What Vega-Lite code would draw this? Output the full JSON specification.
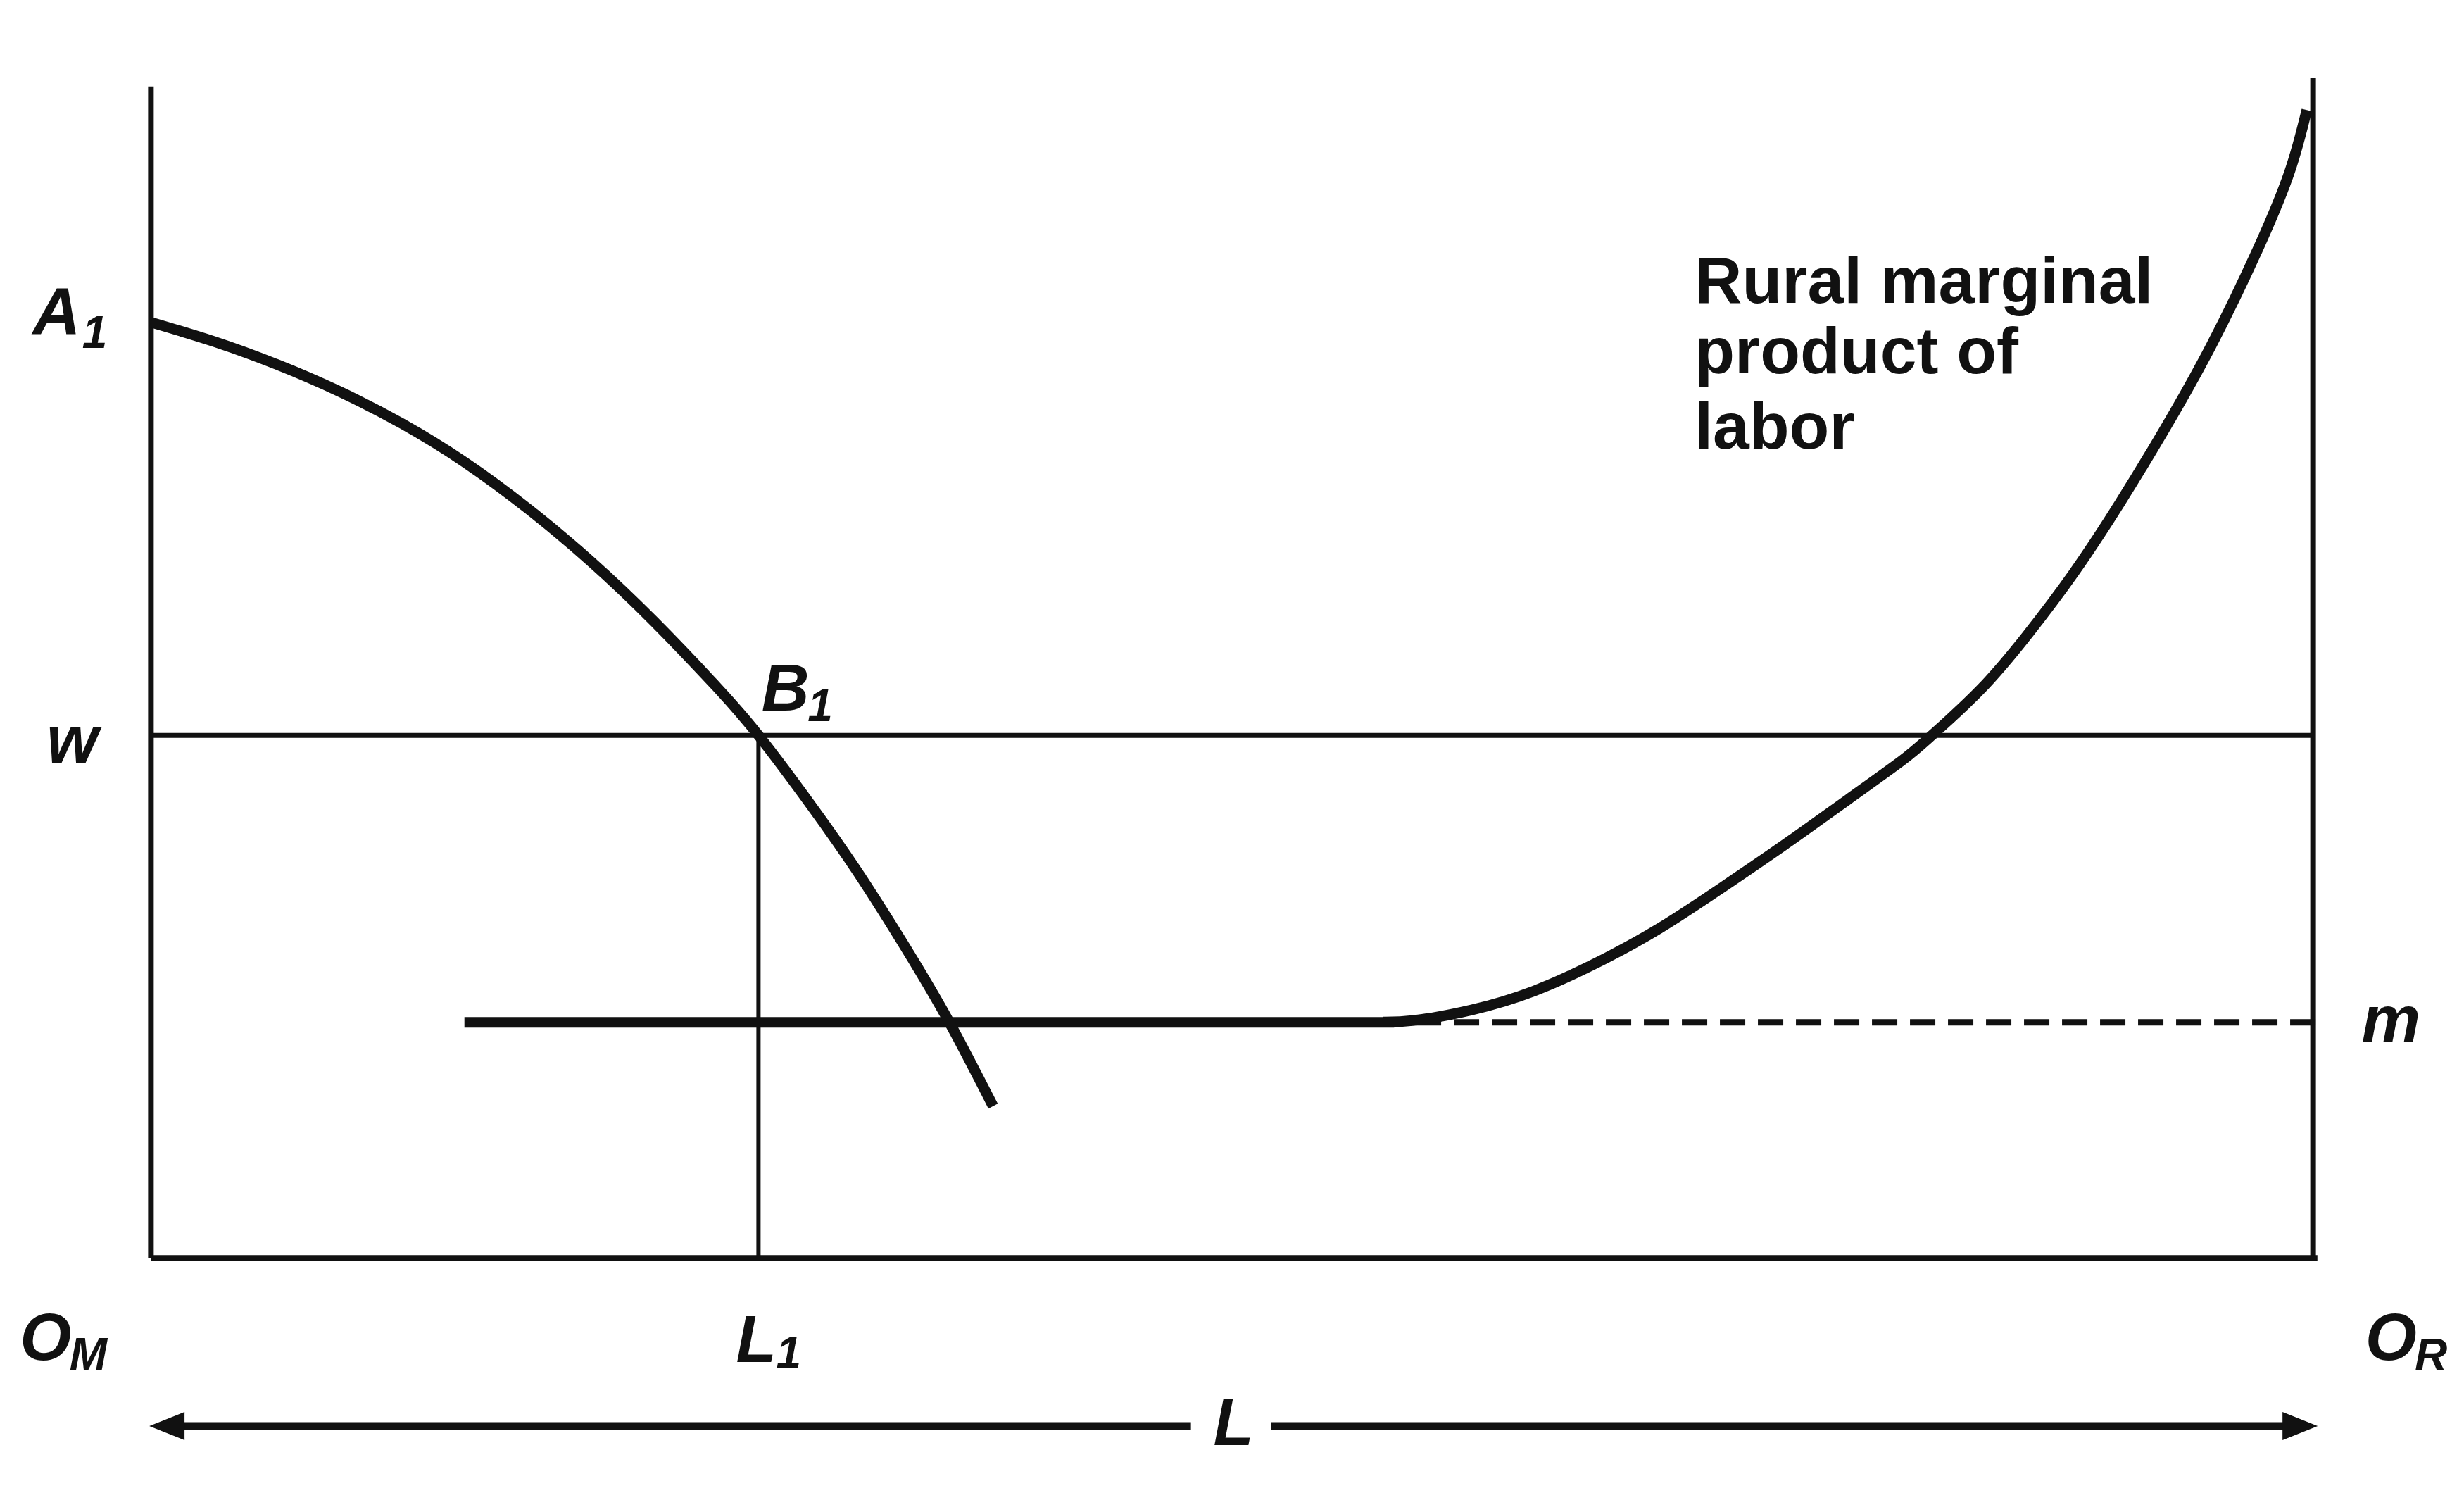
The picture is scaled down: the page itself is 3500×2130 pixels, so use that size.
{
  "$schema": "https://vega.github.io/schema/vega-lite/v6.json",
  "width": 3500,
  "height": 2130,
  "autosize": {"type": "fit", "contains": "padding"},
  "padding": 0,
  "background": "white",
  "config": {"view": {"stroke": null}},
  "datasets": {
    "axes": [
      {"x": 0, "y": 0, "x2": 0, "y2": 100},
      {"x": 100, "y": 0, "x2": 100, "y2": 100.7},
      {"x": 0, "y": 0, "x2": 100.2, "y2": 0}
    ],
    "wline": [{"x": 0, "y": 44.6, "x2": 100, "y2": 44.6}],
    "l1line": [{"x": 28.1, "y": 0, "x2": 28.1, "y2": 44.6}],
    "msolid": [{"x": 14.5, "y": 20.1, "x2": 57.5, "y2": 20.1}],
    "mdash": [{"x": 58.5, "y": 20.1, "x2": 100.2, "y2": 20.1}],
    "arrow": [
      {"x": 0.8, "y": -14.36, "x2": 48.1, "y2": -14.36},
      {"x": 51.8, "y": -14.36, "x2": 99.4, "y2": -14.36}
    ],
    "headL": [{"x": 0.74, "y": -14.36}],
    "headR": [{"x": 99.4, "y": -14.36}],
    "curves": [
      {"curve": "manufacturing", "x": 0, "y": 79.87},
      {"curve": "manufacturing", "x": 2.91, "y": 78.23},
      {"curve": "manufacturing", "x": 5.81, "y": 76.28},
      {"curve": "manufacturing", "x": 8.72, "y": 73.96},
      {"curve": "manufacturing", "x": 11.63, "y": 71.2},
      {"curve": "manufacturing", "x": 14.53, "y": 67.9},
      {"curve": "manufacturing", "x": 17.44, "y": 63.95},
      {"curve": "manufacturing", "x": 20.35, "y": 59.45},
      {"curve": "manufacturing", "x": 23.26, "y": 54.35},
      {"curve": "manufacturing", "x": 26.16, "y": 48.75},
      {"curve": "manufacturing", "x": 28.12, "y": 44.56},
      {"curve": "manufacturing", "x": 30.52, "y": 38.66},
      {"curve": "manufacturing", "x": 32.7, "y": 32.9},
      {"curve": "manufacturing", "x": 34.88, "y": 26.55},
      {"curve": "manufacturing", "x": 36.92, "y": 20.13},
      {"curve": "manufacturing", "x": 38.95, "y": 12.95},
      {"curve": "rural", "x": 56.98, "y": 20.13},
      {"curve": "rural", "x": 58.43, "y": 20.27},
      {"curve": "rural", "x": 61.05, "y": 21.15},
      {"curve": "rural", "x": 63.95, "y": 22.77},
      {"curve": "rural", "x": 66.86, "y": 25.18},
      {"curve": "rural", "x": 69.77, "y": 28.13},
      {"curve": "rural", "x": 72.67, "y": 31.62},
      {"curve": "rural", "x": 75.58, "y": 35.3},
      {"curve": "rural", "x": 78.49, "y": 39.13},
      {"curve": "rural", "x": 80.96, "y": 42.42},
      {"curve": "rural", "x": 82.34, "y": 44.56},
      {"curve": "rural", "x": 84.59, "y": 48.46},
      {"curve": "rural", "x": 86.77, "y": 53.15},
      {"curve": "rural", "x": 88.95, "y": 58.52},
      {"curve": "rural", "x": 91.06, "y": 64.43},
      {"curve": "rural", "x": 93.09, "y": 70.6},
      {"curve": "rural", "x": 95.28, "y": 77.85},
      {"curve": "rural", "x": 97.46, "y": 86.17},
      {"curve": "rural", "x": 98.92, "y": 92.75},
      {"curve": "rural", "x": 99.71, "y": 97.99}
    ],
    "labels": [
      {"t": "A", "x": -4.36, "y": 78.8},
      {"t": "w", "x": -3.63, "y": 42.3},
      {"t": "B", "x": 29.35, "y": 46.7},
      {"t": "m", "x": 103.6, "y": 18.4},
      {"t": "O", "x": -4.87, "y": -8.72},
      {"t": "L", "x": 28.0, "y": -8.86},
      {"t": "O", "x": 103.6, "y": -8.72},
      {"t": "L", "x": 50.07, "y": -15.97}
    ],
    "subs": [
      {"t": "1", "x": -2.6, "y": 77.7},
      {"t": "1", "x": 30.95, "y": 45.8},
      {"t": "M", "x": -2.9, "y": -9.53},
      {"t": "1", "x": 29.5, "y": -9.4},
      {"t": "R", "x": 105.45, "y": -9.6}
    ],
    "caption": [
      {"t": "Rural marginal", "x": 71.4, "y": 81.52},
      {"t": "product of", "x": 71.4, "y": 75.5},
      {"t": "labor", "x": 71.4, "y": 69.1}
    ]
  },
  "encoding": {
    "x": {"field": "x", "type": "quantitative", "scale": {"domain": [-6.98, 106.98], "nice": false, "zero": false}, "axis": null},
    "y": {"field": "y", "type": "quantitative", "scale": {"domain": [-20.67, 107.38], "nice": false, "zero": false}, "axis": null}
  },
  "layer": [
    {"data": {"name": "axes"}, "mark": {"type": "rule", "color": "#111111", "strokeWidth": 8}, "encoding": {"x2": {"field": "x2"}, "y2": {"field": "y2"}}},
    {"data": {"name": "wline"}, "mark": {"type": "rule", "color": "#111111", "strokeWidth": 7}, "encoding": {"x2": {"field": "x2"}, "y2": {"field": "y2"}}},
    {"data": {"name": "l1line"}, "mark": {"type": "rule", "color": "#111111", "strokeWidth": 6}, "encoding": {"x2": {"field": "x2"}, "y2": {"field": "y2"}}},
    {"data": {"name": "mdash"}, "mark": {"type": "rule", "color": "#111111", "strokeWidth": 9, "strokeDash": [36, 18]}, "encoding": {"x2": {"field": "x2"}, "y2": {"field": "y2"}}},
    {"data": {"name": "msolid"}, "mark": {"type": "rule", "color": "#111111", "strokeWidth": 15}, "encoding": {"x2": {"field": "x2"}, "y2": {"field": "y2"}}},
    {"data": {"name": "arrow"}, "mark": {"type": "rule", "color": "#111111", "strokeWidth": 11}, "encoding": {"x2": {"field": "x2"}, "y2": {"field": "y2"}}},
    {"data": {"name": "headL"}, "mark": {"type": "point", "shape": "M-1,0L1,-0.8L1,0.8Z", "size": 2500, "filled": true, "color": "#111111", "opacity": 1}},
    {"data": {"name": "headR"}, "mark": {"type": "point", "shape": "M1,0L-1,-0.8L-1,0.8Z", "size": 2500, "filled": true, "color": "#111111", "opacity": 1}},
    {"data": {"name": "curves"}, "mark": {"type": "line", "color": "#111111", "strokeWidth": 15, "interpolate": "natural"}, "encoding": {"detail": {"field": "curve"}}},
    {"data": {"name": "labels"}, "mark": {"type": "text", "font": "Liberation Sans", "fontSize": 94, "fontWeight": "bold", "fontStyle": "italic", "align": "center", "baseline": "alphabetic", "color": "#111111"}, "encoding": {"text": {"field": "t"}}},
    {"data": {"name": "subs"}, "mark": {"type": "text", "font": "Liberation Sans", "fontSize": 64, "fontWeight": "bold", "fontStyle": "italic", "align": "center", "baseline": "alphabetic", "color": "#111111"}, "encoding": {"text": {"field": "t"}}},
    {"data": {"name": "caption"}, "mark": {"type": "text", "font": "Liberation Sans", "fontSize": 93, "fontWeight": "bold", "align": "left", "baseline": "alphabetic", "color": "#111111"}, "encoding": {"text": {"field": "t"}}}
  ]
}
